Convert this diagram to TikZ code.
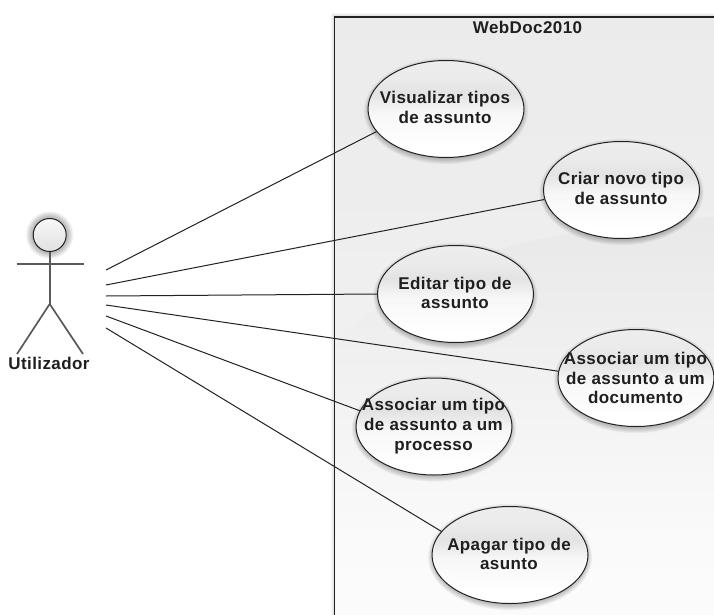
\documentclass[tikz,border=0pt]{standalone}
\usepackage{fontspec}
\setmainfont{Liberation Sans}[BoldFeatures={LetterSpace=2.4}]
\usetikzlibrary{shapes.geometric,calc}
\definecolor{inkline}{HTML}{222222}
\definecolor{actorline}{HTML}{5A5A5A}
\pgfdeclareverticalshading{ucshade}{100bp}{
  color(0bp)=(white); color(30bp)=(white); color(48bp)=(white!97!black);
  color(58bp)=(white!89!black); color(66bp)=(white!92!black); color(100bp)=(white!96!black)}
\pgfdeclareverticalshading{bgtop}{100bp}{
  color(0bp)=(white); color(25bp)=(white!97!black); color(60bp)=(white!93!black); color(100bp)=(white!91!black)}
\pgfdeclareverticalshading{bgswoosh}{100bp}{
  color(0bp)=(white); color(35bp)=(white!98!black); color(70bp)=(white!92!black); color(100bp)=(white!88!black)}
\tikzset{
  usecase/.style={ellipse,draw=inkline,line width=1pt,minimum width=156pt,minimum height=97pt,inner sep=0pt,shading=ucshade},
  uctext/.style={font=\bfseries\fontsize{17pt}{19.6pt}\selectfont,align=center,text=black!88,inner sep=0pt},
  connector/.style={draw=inkline,line width=1pt},
  actorstroke/.style={draw=actorline,line width=1.7pt},
  freeend/.style={coordinate}
}
\newcommand{\softglow}[2]{%
  \foreach \g in {0,...,9}{\fill[black,opacity=.035] (#1,#2+2) ellipse [x radius=75pt+.8*\g pt,y radius=46pt+.8*\g pt];}}
\begin{document}
\begin{tikzpicture}[x=1pt,y=-1pt]
\useasboundingbox (0,0) rectangle (714,615);
\fill[white] (0,0) rectangle (714,615);
% boundary
\begin{scope}
  \clip (0,0) rectangle (714,615);
  \foreach \g in {1,...,4}{\fill[black,opacity=.035] (334.5-\g,17-\g) rectangle (730,640);}
  \shade[shading=bgtop] (334.5,17) rectangle (714,615);
  \shade[shading=bgswoosh] (714,217) .. controls (560,228) and (420,250) .. (336,345) -- (336,615) -- (714,615) -- cycle;
  \draw[inkline,line width=1.1pt] (334.5,630) -- (334.5,17) -- (730,17);
\end{scope}
\node[font=\bfseries\fontsize{17pt}{19pt}\selectfont,text=black!88,inner sep=0pt] (title) at (527.5,27) {WebDoc2010};
% actor
\foreach \g in {0,...,11}{\fill[black,opacity=.035] (49.7,235) circle [radius=15pt+.8*\g pt];}
\node[circle,draw=inkline,line width=1pt,minimum size=33pt,inner sep=0pt,top color=white!97!black,bottom color=white!88!black] (head) at (49.7,235) {};
\coordinate (armL) at (16.5,263.7);
\coordinate (armR) at (83.5,263.7);
\coordinate (hip) at (49.7,304);
\coordinate (footL) at (17,354);
\coordinate (footR) at (83,354);
\draw[actorstroke] (head.south) -- (hip);
\draw[actorstroke] (armL) -- (armR);
\draw[actorstroke] (footL) -- (hip) -- (footR);
\node[font=\bfseries\fontsize{17pt}{19pt}\selectfont,text=black!88,inner sep=0pt] (actorname) at (49,363) {Utilizador};
% use cases
\softglow{446}{109}\softglow{621.5}{190}\softglow{455.5}{294}\softglow{636}{378}\softglow{434}{426.5}\softglow{510}{555}
\node[usecase] (ucV) at (446,109) {};
\node[usecase] (ucC) at (621.5,190) {};
\node[usecase] (ucE) at (455.5,294) {};
\node[usecase] (ucD) at (636,378) {};
\node[usecase] (ucP) at (434,426.5) {};
\node[usecase] (ucA) at (510,555) {};
\node[uctext] (tV) at (445,107.5) {Visualizar tipos\\de assunto};
\node[uctext] (tC) at (621,188.5) {Criar novo tipo\\de assunto};
\node[uctext] (tE) at (455,293) {Editar tipo de\\assunto};
\node[uctext] (tD) at (635.5,378) {Associar um tipo\\de assunto a um\\documento};
\node[uctext] (tP) at (433.5,426) {Associar um tipo\\de assunto a um\\processo};
\node[uctext] (tA) at (509,554) {Apagar tipo de\\asunto};
% connectors
\node[freeend] (a1) at (106,270) {};
\node[freeend] (a2) at (106,285) {};
\node[freeend] (a3) at (106,296) {};
\node[freeend] (a4) at (106,305) {};
\node[freeend] (a5) at (106,316) {};
\node[freeend] (a6) at (106,328) {};
\draw[connector] (a1) -- (ucV.198);
\draw[connector] (a2) -- (ucC.187);
\draw[connector] (a3) -- (ucE.180);
\draw[connector] (a4) -- (ucD.175);
\draw[connector] (a5) -- (ucP.168);
\draw[connector] (a6) -- (ucA.161);
\end{tikzpicture}
\end{document}
